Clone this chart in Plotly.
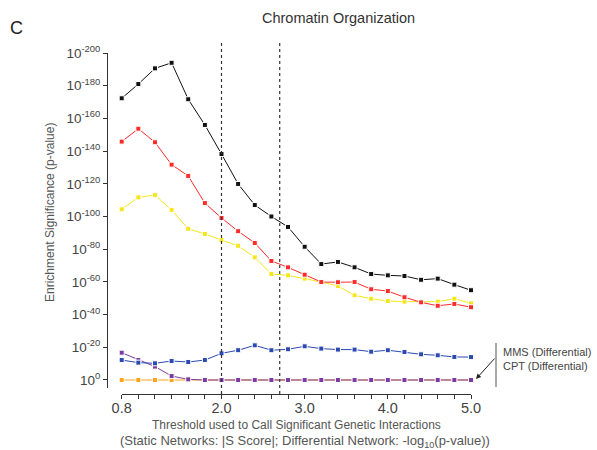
import plotly.graph_objects as go

W, H = 597, 450

thresholds = [0.8, 1.0, 1.2, 1.4, 1.6, 1.8, 2.0, 2.2, 2.4, 2.6, 2.8, 3.0,
              3.2, 3.4, 3.6, 3.8, 4.0, 4.2, 4.4, 4.6, 4.8, 5.0]
x_tick_labels = ["0.8", "", "", "", "", "", "2.0", "", "", "", "", "3.0",
                 "", "", "", "", "4.0", "", "", "", "", "5.0"]

# values are -log10(p-value)
black = [172.3, 181, 190.6, 194, 171.7, 156, 138.2, 119.9, 107, 100, 93.6,
         81.5, 70.9, 72.2, 68.9, 64.8, 64, 63.6, 61.3, 62, 58.3, 54.9]
red = [145.8, 153.7, 145.4, 131.7, 124.8, 108.2, 99.1, 91, 83.8, 72.8, 68.9,
       64.4, 59.9, 59.8, 59.9, 55.5, 54.4, 50.6, 47.5, 45.4, 46.5, 44.5]
yellow = [104.4, 111.7, 113.1, 104, 92.5, 89.3, 85.6, 82.1, 75, 64.8, 64,
          62, 59.9, 57.5, 51.8, 49.7, 48.3, 47.9, 47.7, 47.9, 49.7, 46.9]
blue = [12.2, 10.6, 10.2, 11.6, 11, 12.2, 16.3, 18.2, 21.2, 18.2, 18.8,
        20.6, 19.2, 18.6, 18.6, 17.3, 18.2, 17.1, 15.7, 15.1, 14.1, 14]
purple = [16.7, 12.2, 8.2, 2.4, 0.4, 0, 0, 0, 0, 0, 0,
          0, 0, 0, 0, 0, 0, 0, 0, 0, 0, 0]
orange = [0, 0, 0, 0, 0, 0, 0, 0, 0, 0, 0,
          0, 0, 0, 0, 0, 0, 0, 0, 0, 0, 0]

y_tick_vals = [0, 20, 40, 60, 80, 100, 120, 140, 160, 180, 200]
y_tick_labels = ["10<sup>0</sup>", "10<sup>-20</sup>", "10<sup>-40</sup>",
                 "10<sup>-60</sup>", "10<sup>-80</sup>", "10<sup>-100</sup>",
                 "10<sup>-120</sup>", "10<sup>-140</sup>", "10<sup>-160</sup>",
                 "10<sup>-180</sup>", "10<sup>-200</sup>"]

dashed_thresholds = [2.0, 2.7]

series = [
    ("orange", orange, "#ffa31a"),
    ("purple", purple, "#7a3aa0"),
    ("blue", blue, "#2b49b0"),
    ("yellow", yellow, "#f5e61a"),
    ("red", red, "#ff2a2a"),
    ("black", black, "#111111"),
]

def px(v):
    return v / W

def py(v):
    return 1 - v / H

FONT = "Liberation Sans, Arial, sans-serif"
fig = go.Figure()
for name, vals, col in series:
    fig.add_trace(go.Scatter(
        x=thresholds, y=vals, mode="lines+markers", name=name,
        line=dict(color=col, width=1),
        marker=dict(symbol="square", size=5, color=col,
                    line=dict(color="white", width=1)),
        cliponaxis=False, showlegend=False, hoverinfo="skip",
    ))

for t in dashed_thresholds:
    fig.add_shape(type="line", xref="x", yref="paper", x0=t, x1=t,
                  y0=py(394), y1=py(43),
                  line=dict(color="#333333", width=1.2, dash="dot"))

fig.update_layout(
    width=W, height=H,
    margin=dict(l=0, r=0, t=0, b=0),
    paper_bgcolor="white", plot_bgcolor="white",
    font=dict(family=FONT, color="#444444", size=12),
    xaxis=dict(domain=[px(121.7), px(471)], range=[0.8, 5.0],
               anchor="free", position=py(394),
               tickvals=thresholds, ticktext=x_tick_labels,
               ticks="outside", ticklen=4, tickcolor="#333333",
               showline=True, linecolor="#333333", linewidth=1,
               showgrid=False, zeroline=False, automargin=False,
               ticklabelstandoff=-3,
               tickfont=dict(size=14.5, color="#444444")),
    yaxis=dict(domain=[py(388), py(53)], range=[-4.9, 200],
               anchor="free", position=px(107),
               tickvals=y_tick_vals, ticktext=y_tick_labels,
               ticks="outside", ticklen=4, tickcolor="#333333",
               showline=True, linecolor="#333333", linewidth=1,
               showgrid=False, zeroline=False, automargin=False,
               tickfont=dict(size=13.5, color="#444444")),
)

annotations = [
    dict(text="C", x=px(16.5), y=py(28), font=dict(size=18, color="#222222")),
    dict(text="Chromatin Organization", x=px(338.5), y=py(18),
         font=dict(size=14.5, color="#333333")),
    dict(text="Enrichment Significance (p-value)", x=px(50), y=py(213),
         textangle=-90, font=dict(size=12, color="#555555")),
    dict(text="Threshold used to Call Significant Genetic Interactions",
         x=px(296), y=py(425), font=dict(size=12, color="#555555")),
    dict(text="(Static Networks: |S Score|; Differential Network: -log<sub>10</sub>(p-value))",
         x=px(305), y=py(441), font=dict(size=13, color="#555555")),
    dict(text="MMS (Differential)", x=px(501), y=py(352), xanchor="left",
         font=dict(size=11, color="#444444")),
    dict(text="CPT (Differential)", x=px(501), y=py(366), xanchor="left",
         font=dict(size=11, color="#444444")),
]
for a in annotations:
    a.setdefault("xanchor", "center")
    fig.add_annotation(xref="paper", yref="paper", showarrow=False,
                       yanchor="middle", **a)

fig.add_shape(type="line", xref="paper", yref="paper",
              x0=px(496), x1=px(496), y0=py(343), y1=py(387),
              line=dict(color="#555555", width=1))
fig.add_annotation(xref="paper", yref="paper", axref="pixel", ayref="pixel",
                   x=px(476), y=py(379), ax=20, ay=-22,
                   showarrow=True, arrowhead=2, arrowsize=1, arrowwidth=1,
                   arrowcolor="#222222", text="")

fig.write_html("out.html", config={"displayModeBar": False},
               post_script="document.body.style.margin='0px';")
